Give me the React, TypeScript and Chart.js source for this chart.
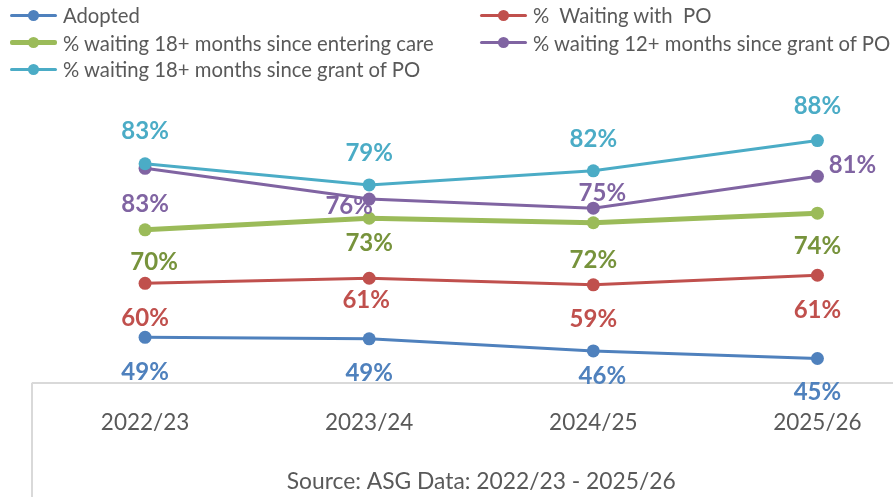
import React, { useEffect, useRef } from "react";
import { Chart, registerables } from "chart.js";

Chart.register(...registerables);

// ---- data ----
const categories = ["2022/23", "2023/24", "2024/25", "2025/26"];
const adopted = [49.0, 48.7, 46.3, 44.8];
const waitingWithPO = [59.7, 60.7, 59.4, 61.3];
const waiting18SinceCare = [70.3, 72.6, 71.7, 73.6];
const waiting12SincePO = [82.5, 76.4, 74.6, 80.9];
const waiting18SincePO = [83.4, 79.2, 82.0, 88.0];
const seriesNames = [
  "Adopted",
  "%  Waiting with  PO",
  "% waiting 18+ months since entering care",
  "% waiting 12+ months since grant of PO",
  "% waiting 18+ months since grant of PO",
];
const sourceText = "Source: ASG Data: 2022/23 - 2025/26";
const yMin = 40;
const yMax = 100;

const seriesData = [adopted, waitingWithPO, waiting18SinceCare, waiting12SincePO, waiting18SincePO];

// ---- styles ----
const seriesStyles = [
  { color: "#4f81bd", label: "#4f81bd", width: 3, offsets: [[0, 35], [0, 34], [9, 25], [0, 34]], legend: [0, 0] },
  { color: "#c0504d", label: "#c0504d", width: 3, offsets: [[0, 35], [-3, 22], [0, 34], [0, 35]], legend: [1, 0] },
  { color: "#9bbb59", label: "#77933c", width: 5, offsets: [[9, 32], [0, 25], [0, 37], [0, 33]], legend: [0, 1] },
  { color: "#8064a2", label: "#8064a2", width: 3, offsets: [[0, 36], [-20, 7], [9, -15], [35, -11]], legend: [1, 1] },
  { color: "#4bacc6", label: "#4bacc6", width: 3, offsets: [[0, -32], [0, -32], [0, -32], [0, -34]], legend: [0, 2] },
];

const FONT = "Lato, 'Open Sans', sans-serif";
const TEXT = "#595959";
const AXIS = "#d9d9d9";

const labelPlugin = {
  id: "pointLabels",
  afterDatasetsDraw(chart: any) {
    const ctx = chart.ctx;
    ctx.save();
    ctx.font = `bold 24px ${FONT}`;
    ctx.textAlign = "center";
    ctx.textBaseline = "middle";
    chart.data.datasets.forEach((ds: any, di: number) => {
      const meta = chart.getDatasetMeta(di);
      const st = seriesStyles[di];
      meta.data.forEach((pt: any, i: number) => {
        const [dx, dy] = st.offsets[i];
        ctx.fillStyle = st.label;
        ctx.fillText(Math.round(ds.data[i]) + "%", pt.x + dx, pt.y + dy);
      });
    });
    ctx.restore();
  },
};

const edgePlugin = {
  id: "edgeLine",
  afterDraw(chart: any) {
    const { ctx, chartArea, height } = chart;
    ctx.save();
    ctx.strokeStyle = AXIS;
    ctx.lineWidth = 2;
    ctx.beginPath();
    ctx.moveTo(chartArea.left - 1, chartArea.bottom);
    ctx.lineTo(chartArea.left - 1, height);
    ctx.stroke();
    ctx.restore();
  },
};

function LegendItem({ idx }: { idx: number }) {
  const st = seriesStyles[idx];
  const [col, row] = st.legend;
  const left = col === 0 ? 10 : 480;
  const top = [15, 42.5, 69][row];
  return (
    <div style={{ position: "absolute", left, top: top - 14, height: 28, display: "flex", alignItems: "center" }}>
      <div style={{ position: "relative", width: 47, height: 28 }}>
        <div
          style={{
            position: "absolute",
            left: 0,
            right: 0,
            top: 14 - st.width / 2,
            height: st.width,
            background: st.color,
            borderRadius: 2,
          }}
        />
        <div
          style={{
            position: "absolute",
            left: 23.5 - 5.5,
            top: 14 - 5.5,
            width: 11,
            height: 11,
            borderRadius: "50%",
            background: st.color,
          }}
        />
      </div>
      <span
        style={{
          marginLeft: 6,
          fontFamily: FONT,
          fontSize: 20.3,
          color: TEXT,
          whiteSpace: "pre",
          lineHeight: "28px",
        }}
      >
        {seriesNames[idx]}
      </span>
    </div>
  );
}

export default function App() {
  const ref = useRef<HTMLCanvasElement>(null);

  useEffect(() => {
    if (!ref.current) return;
    const chart = new Chart(ref.current, {
      type: "line",
      data: {
        labels: categories,
        datasets: seriesData.map((d, i) => ({
          label: seriesNames[i],
          data: d,
          borderColor: seriesStyles[i].color,
          backgroundColor: seriesStyles[i].color,
          borderWidth: seriesStyles[i].width,
          pointRadius: 6.5,
          pointHoverRadius: 6.5,
          pointBorderWidth: 0,
          pointBackgroundColor: seriesStyles[i].color,
          tension: 0,
          fill: false,
          order: seriesData.length - 1 - i,
        })),
      },
      options: {
        animation: false,
        responsive: false,
        maintainAspectRatio: false,
        layout: { padding: { left: 33, right: 0, top: 80, bottom: 0 } },
        plugins: {
          legend: { display: false },
          tooltip: { enabled: false },
          title: { display: false },
        },
        scales: {
          x: {
            type: "category",
            offset: true,
            grid: { display: false, drawTicks: false },
            border: { display: true, color: AXIS, width: 2 },
            ticks: {
              color: TEXT,
              font: { family: FONT, size: 22.5 },
              padding: 27,
              maxRotation: 0,
            },
            title: {
              display: true,
              text: sourceText,
              color: TEXT,
              font: { family: FONT, size: 22.8 },
              padding: { top: 0, bottom: 2 },
            },
            afterFit: (scale: any) => {
              scale.height = 114.3;
            },
          },
          y: {
            display: false,
            min: yMin,
            max: yMax,
          },
        },
      },
      plugins: [labelPlugin, edgePlugin],
    });
    return () => chart.destroy();
  }, []);

  return (
    <div
      style={{
        position: "fixed",
        left: 0,
        top: 0,
        width: 893,
        height: 497,
        overflow: "hidden",
        background: "#ffffff",
      }}
    >
      <canvas ref={ref} width={936} height={497} style={{ position: "absolute", left: 0, top: 0, width: 936, height: 497 }} />
      {seriesStyles.map((_, i) => (
        <LegendItem key={i} idx={i} />
      ))}
    </div>
  );
}
